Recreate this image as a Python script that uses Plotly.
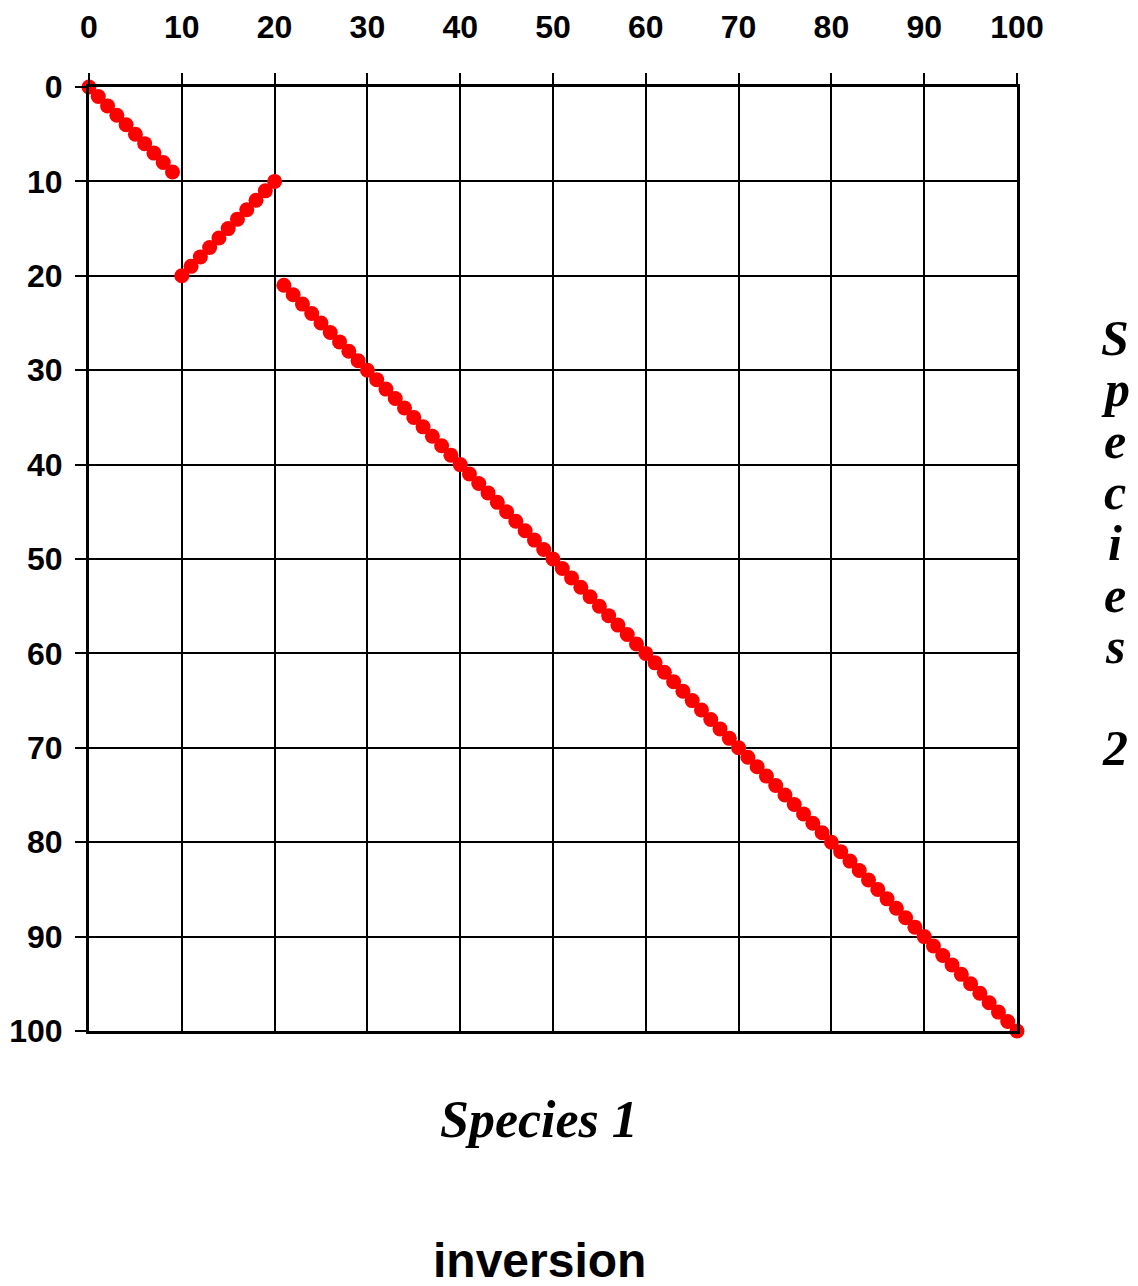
import plotly.graph_objects as go

# Species 1 position vs Species 2 position, in three collinear blocks
block1_sp1 = [0, 1, 2, 3, 4, 5, 6, 7, 8, 9]
block1_sp2 = [0, 1, 2, 3, 4, 5, 6, 7, 8, 9]

# inverted block
block2_sp1 = [10, 11, 12, 13, 14, 15, 16, 17, 18, 19, 20]
block2_sp2 = [20, 19, 18, 17, 16, 15, 14, 13, 12, 11, 10]

block3_sp1 = [21, 22, 23, 24, 25, 26, 27, 28, 29, 30, 31, 32, 33, 34, 35, 36, 37, 38, 39, 40,
              41, 42, 43, 44, 45, 46, 47, 48, 49, 50, 51, 52, 53, 54, 55, 56, 57, 58, 59, 60,
              61, 62, 63, 64, 65, 66, 67, 68, 69, 70, 71, 72, 73, 74, 75, 76, 77, 78, 79, 80,
              81, 82, 83, 84, 85, 86, 87, 88, 89, 90, 91, 92, 93, 94, 95, 96, 97, 98, 99, 100]
block3_sp2 = [21, 22, 23, 24, 25, 26, 27, 28, 29, 30, 31, 32, 33, 34, 35, 36, 37, 38, 39, 40,
              41, 42, 43, 44, 45, 46, 47, 48, 49, 50, 51, 52, 53, 54, 55, 56, 57, 58, 59, 60,
              61, 62, 63, 64, 65, 66, 67, 68, 69, 70, 71, 72, 73, 74, 75, 76, 77, 78, 79, 80,
              81, 82, 83, 84, 85, 86, 87, 88, 89, 90, 91, 92, 93, 94, 95, 96, 97, 98, 99, 100]

tick_vals = [0, 10, 20, 30, 40, 50, 60, 70, 80, 90, 100]

blocks = [(block1_sp1, block1_sp2), (block2_sp1, block2_sp2), (block3_sp1, block3_sp2)]

fig = go.Figure()

for xs, ys in blocks:
    fig.add_trace(go.Scatter(
        x=xs, y=ys,
        mode='lines+markers',
        line=dict(color='#ff0000', width=4),
        marker=dict(color='#ff0000', size=15),
        cliponaxis=False,
        showlegend=False,
        hoverinfo='x+y'
    ))

axis_common = dict(
    tickvals=tick_vals,
    showgrid=True, gridcolor='black', gridwidth=2,
    zeroline=False,
    showline=True, linecolor='black', linewidth=3, mirror=True,
    ticks='outside', ticklen=11, tickwidth=2, tickcolor='black',
    tickfont=dict(family='Liberation Sans, Arial', size=32, color='black', weight='bold'),
    automargin=False,
)

fig.update_xaxes(range=[0, 100], side='top', ticklabelstandoff=22, **axis_common)
fig.update_yaxes(range=[100, 0], ticklabelstandoff=6, **axis_common)

serif = dict(family='Liberation Serif, Times New Roman', color='black')

# axis titles
fig.add_annotation(text='<b><i>Species 1</i></b>', xref='paper', yref='paper',
                   x=0.485, y=-0.094, xanchor='center', yanchor='middle', showarrow=False,
                   font=dict(size=52, **serif))

# vertical "Species 2", one character per line
label2 = 'Species 2'
for i, ch in enumerate(label2):
    if ch == ' ':
        continue
    fig.add_annotation(text='<b><i>' + ch + '</i></b>', xref='paper', yref='paper',
                       x=1.106, y=1 - (338 - 87 + 51.3 * i) / 944,
                       xanchor='center', yanchor='middle', showarrow=False,
                       font=dict(size=50, **serif))

fig.add_annotation(text='<b>inversion</b>', xref='paper', yref='paper',
                   x=0.485, y=-0.243, xanchor='center', yanchor='middle', showarrow=False,
                   font=dict(family='Liberation Sans, Arial', size=48, color='black'))

# page body adds an 8px margin, so the figure is drawn 8px smaller each way
fig.update_layout(
    width=1130, height=1278,
    margin=dict(l=81, r=121, t=79, b=255, autoexpand=False),
    plot_bgcolor='white', paper_bgcolor='white',
)

fig.write_html("out.html")
